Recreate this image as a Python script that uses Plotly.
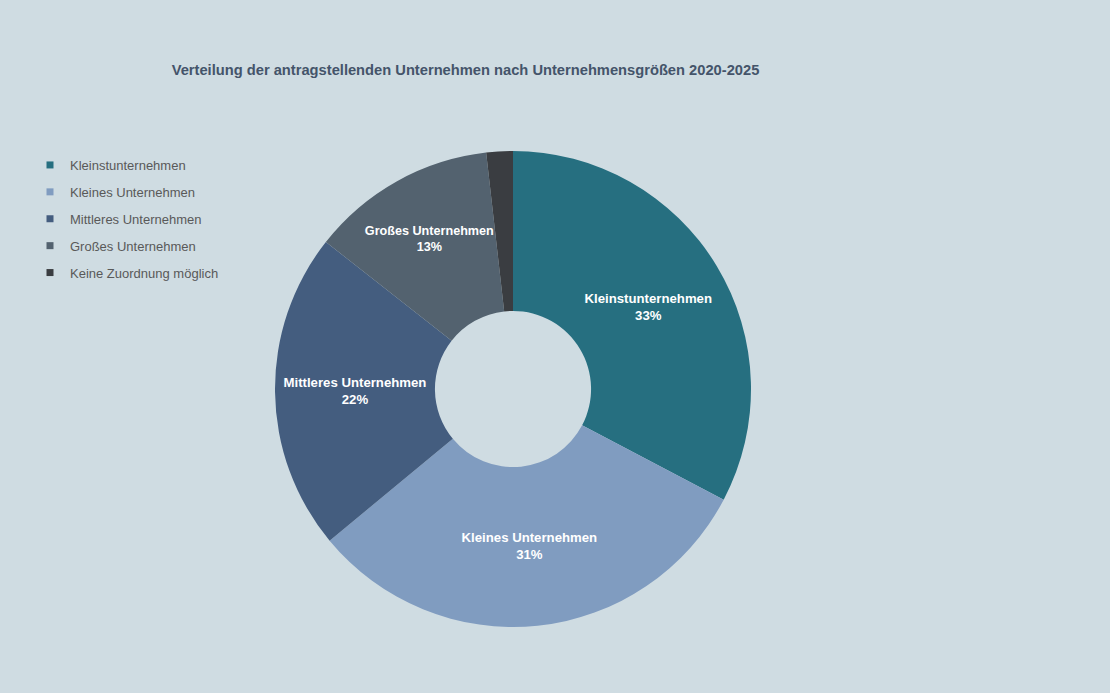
import plotly.graph_objects as go

labels = ["Kleinstunternehmen", "Kleines Unternehmen", "Mittleres Unternehmen",
          "Großes Unternehmen", "Keine Zuordnung möglich"]
values = [32.7, 31.3, 21.6, 12.6, 1.8]
colors = ["#266f80", "#809cc0", "#445d7f", "#53626f", "#3a3d41"]
show_text = [True, True, True, True, False]

title_text = "Verteilung der antragstellenden Unternehmen nach Unternehmensgrößen 2020-2025"
BG = "#cfdce2"

W, H = 1110, 693
cx, cy, R = 513, 389, 238

templates = ["<b>%{label}</b><br><b>%{percent:.0%}</b>" if s else "" for s in show_text]

fig = go.Figure()
fig.add_trace(go.Pie(
    labels=labels, values=values, sort=False, direction="clockwise", rotation=0,
    hole=0.328,
    marker=dict(colors=colors, line=dict(width=0)),
    texttemplate=templates, textposition="inside", insidetextorientation="horizontal",
    insidetextfont=dict(family="Liberation Sans, Arial", size=13.2, color="white"),
    hoverinfo="label+percent",
    showlegend=False,
    domain=dict(x=[(cx - R) / W, (cx + R) / W], y=[(H - cy - R) / H, (H - cy + R) / H]),
))

for i, (lab, col) in enumerate(zip(labels, colors)):
    fig.add_trace(go.Scatter(
        x=[None], y=[None], mode="markers", name=lab,
        marker=dict(symbol="square", size=7, color=col),
        legendgroup=f"g{i}", showlegend=True, hoverinfo="skip",
    ))

fig.update_layout(
    width=W, height=H,
    paper_bgcolor=BG, plot_bgcolor=BG,
    margin=dict(l=0, r=0, t=0, b=0),
    xaxis=dict(visible=False), yaxis=dict(visible=False),
    title=dict(text="<b>" + title_text + "</b>", x=465.5 / W, xanchor="center",
               y=1 - 70 / H, yanchor="middle",
               font=dict(family="Liberation Sans, Arial", size=14.7, color="#44546a")),
    legend=dict(x=30 / W, xanchor="left", y=1 - 150 / H, yanchor="top",
                font=dict(family="Liberation Sans, Arial", size=13, color="#595959"),
                tracegroupgap=7, bgcolor="rgba(0,0,0,0)", itemwidth=30),
    showlegend=True,
)

fig.write_html("out.html", config={"displayModeBar": False},
               post_script="document.body.style.margin='0';document.body.style.background='%s';" % BG)
